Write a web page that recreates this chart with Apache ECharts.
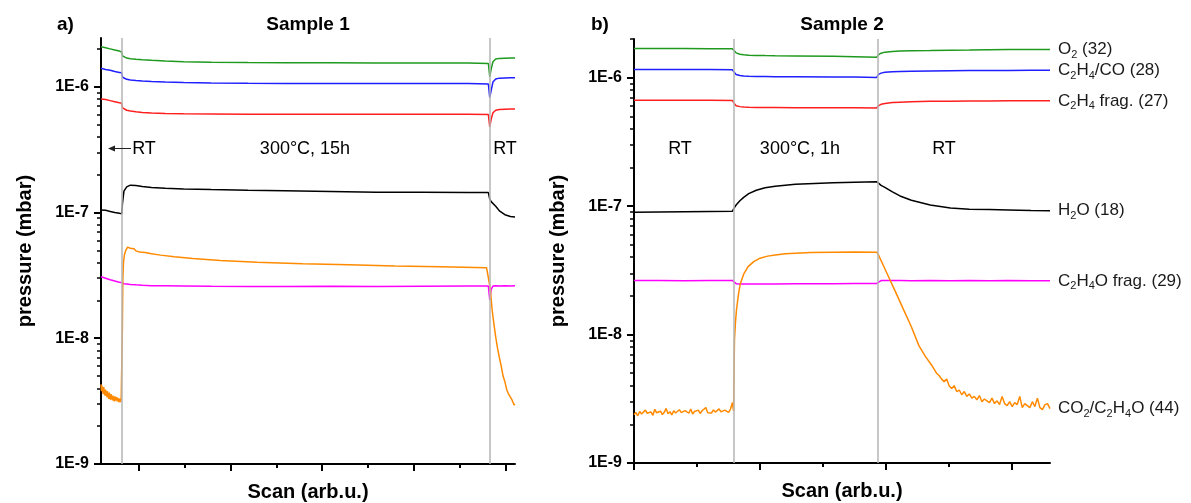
<!DOCTYPE html>
<html>
<head>
<meta charset="utf-8">
<script src="https://cdn.jsdelivr.net/npm/echarts@6.0.0/dist/echarts.min.js"></script>
<style>
html,body{margin:0;padding:0;background:#fff;}
#chart{width:1191px;height:503px;}
</style>
</head>
<body>
<div id="chart"></div>
<script>
// ---------------- data ----------------
// tick positions
const yMajorTicks = [1e-9, 1e-8, 1e-7, 1e-6];
const yMinorTicks = [2e-9,3e-9,4e-9,5e-9,6e-9,7e-9,8e-9,9e-9,
                     2e-8,3e-8,4e-8,5e-8,6e-8,7e-8,8e-8,9e-8,
                     2e-7,3e-7,4e-7,5e-7,6e-7,7e-7,8e-7,9e-7,
                     2e-6];
const xMajorA = [41, 141, 241, 341, 441];
const xMinorA = [91, 191, 291, 391];
const xMajorB = [0, 100, 200, 300];
const xMinorB = [50, 150, 250];
// temperature change events (scan position)
const eventsA = [23, 423];
const eventsB = [79, 193];

// ---- Sample 1 (panel a) ----
const xA = [0, 5, 10, 15, 20, 22.5, 23.5, 25, 28, 32, 38, 45, 55, 70, 90, 120, 160, 200, 250, 300, 350, 400, 422, 423.5, 425, 427, 430, 434, 440, 446, 451];
const a_O2 = [2.08, 2.04, 2.00, 1.96, 1.92, 1.89, 1.76, 1.72, 1.69, 1.67, 1.65, 1.635, 1.62, 1.60, 1.58, 1.565, 1.555, 1.55, 1.548, 1.546, 1.545, 1.545, 1.53, 1.20, 1.38, 1.58, 1.66, 1.68, 1.685, 1.69, 1.69]; // x1e-6
const a_C2H4 = [1.40, 1.37, 1.35, 1.32, 1.30, 1.29, 1.19, 1.16, 1.145, 1.13, 1.12, 1.11, 1.10, 1.09, 1.08, 1.07, 1.064, 1.062, 1.06, 1.06, 1.06, 1.06, 1.05, 0.82, 0.93, 1.09, 1.15, 1.17, 1.175, 1.18, 1.18]; // x1e-6
const a_C2H4f = [0.80, 0.79, 0.775, 0.76, 0.745, 0.74, 0.68, 0.66, 0.65, 0.64, 0.632, 0.625, 0.617, 0.612, 0.609, 0.607, 0.605, 0.605, 0.605, 0.605, 0.605, 0.605, 0.60, 0.48, 0.55, 0.62, 0.65, 0.66, 0.663, 0.665, 0.665]; // x1e-6
const a_H2O = [1.045, 1.04, 1.02, 1.00, 0.985, 0.975, 1.20, 1.48, 1.60, 1.65, 1.64, 1.61, 1.58, 1.56, 1.54, 1.52, 1.50, 1.49, 1.47, 1.45, 1.445, 1.44, 1.44, 1.28, 1.22, 1.19, 1.12, 1.03, 0.96, 0.93, 0.92]; // x1e-7
const a_C2H4O = [3.08, 3.00, 2.92, 2.85, 2.79, 2.77, 2.73, 2.71, 2.70, 2.68, 2.66, 2.64, 2.62, 2.61, 2.60, 2.59, 2.58, 2.58, 2.59, 2.58, 2.59, 2.60, 2.60, 2.02, 2.45, 2.60, 2.61, 2.60, 2.61, 2.60, 2.61]; // x1e-8
const xA_CO2 = [0,0.5,1,1.5,2,2.5,3,3.5,4,4.5,5,5.5,6,6.5,7,7.5,8,8.5,9,9.5,10,10.5,11,11.5,12,12.5,13,13.5,14,14.5,15,15.5,16,16.5,17,17.5,18,18.5,19,19.5,20,20.5,21,21.5,22,22.8,23.3,23.8,24.5,25.5,27,29,30,31,32,33,34,36,38,42,48,55,65,80,100,130,170,220,270,320,370,420,422,424,426,428,430,432,434,436,438,440,441,442,443,444,445,446,447,448,449,450,451];
const a_CO2 = [4.3,3.8,4.2,3.9,4.0,3.6,4.1,3.7,3.8,3.5,3.9,3.6,3.7,3.4,3.8,3.5,3.6,3.3,3.7,3.4,3.5,3.25,3.6,3.3,3.45,3.2,3.5,3.3,3.35,3.15,3.45,3.2,3.3,3.1,3.4,3.15,3.25,3.05,3.35,3.1,3.2,3.0,3.3,3.1,3.25,
               3.2,12,30,40,46,50,53,51.5,54,52,53.5,51,51.5,49.5,48.5,48,47,45.8,44.5,43,41.5,40.2,39.2,38.4,37.6,37,36.4,36.2,
               25,17,13,10.2,8.3,7.0,6.0,5.0,4.5,
               4.2,3.9,4.0,3.6,3.7,3.4,3.5,3.2,3.3,2.95,3.0]; // x1e-9

// ---- Sample 2 (panel b) ----
const xB = [0, 20, 40, 60, 78, 79.5, 81, 84, 87, 91, 97, 104, 112, 128, 158, 175, 192.5, 194, 196, 199, 205, 211, 220, 235, 251, 266, 282, 297, 315, 330];
const b_O2 = [1.69, 1.69, 1.685, 1.68, 1.68, 1.62, 1.56, 1.52, 1.505, 1.495, 1.49, 1.485, 1.48, 1.475, 1.465, 1.455, 1.445, 1.51, 1.55, 1.58, 1.60, 1.61, 1.62, 1.625, 1.635, 1.64, 1.65, 1.655, 1.66, 1.66]; // x1e-6
const b_C2H4 = [1.16, 1.16, 1.158, 1.156, 1.155, 1.10, 1.06, 1.04, 1.03, 1.025, 1.022, 1.02, 1.018, 1.016, 1.013, 1.01, 1.005, 1.06, 1.085, 1.10, 1.11, 1.118, 1.124, 1.128, 1.132, 1.135, 1.137, 1.139, 1.14, 1.14]; // x1e-6
const b_C2H4f = [0.668, 0.667, 0.667, 0.666, 0.665, 0.63, 0.605, 0.595, 0.59, 0.588, 0.586, 0.585, 0.585, 0.584, 0.583, 0.582, 0.58, 0.605, 0.62, 0.63, 0.64, 0.645, 0.65, 0.654, 0.656, 0.658, 0.659, 0.66, 0.66, 0.66]; // x1e-6
const b_H2O = [0.895, 0.90, 0.905, 0.908, 0.91, 0.97, 1.02, 1.10, 1.17, 1.25, 1.33, 1.39, 1.43, 1.48, 1.52, 1.535, 1.55, 1.50, 1.45, 1.40, 1.29, 1.20, 1.11, 1.02, 0.965, 0.946, 0.94, 0.933, 0.925, 0.92]; // x1e-7
const b_C2H4O = [2.63, 2.64, 2.62, 2.64, 2.64, 2.55, 2.49, 2.48, 2.47, 2.48, 2.47, 2.48, 2.48, 2.49, 2.49, 2.50, 2.50, 2.58, 2.63, 2.64, 2.63, 2.64, 2.62, 2.63, 2.62, 2.63, 2.62, 2.63, 2.62, 2.62]; // x1e-8
const xB_CO2 = [0,1.5,3,4.5,6,7.5,9,10.5,12,13.5,15,16.5,18,19.5,21,22.5,24,25.5,27,28.5,30,31.5,33,34.5,36,37.5,39,40.5,42,43.5,45,46.5,48,49.5,51,52.5,54,55.5,57,58.5,60,61.5,63,64.5,66,67.5,69,70.5,72,73.5,75,76.5,78,
                79,79.7,80.5,81.3,83,84.4,87,90.5,95,100,106,112,120,128,140,158,175,192.5,
                194,200,207,214,220,226,231,236,240,
                242,244,246,248,250,252,254,256,258,260,262,264,266,268,270,272,274,276,278,280,282,284,286,288,290,292,294,296,298,300,302,304,306,308,310,312,314,316,318,320,322,324,326,328,330];
const b_CO2 = [2.38,2.47,2.33,2.52,2.41,2.36,2.58,2.44,2.39,2.50,2.35,2.62,2.46,2.40,2.53,2.38,2.48,2.66,2.42,2.51,2.37,2.55,2.45,2.43,2.60,2.47,2.39,2.56,2.50,2.44,2.63,2.41,2.52,2.48,2.58,2.43,2.55,2.47,2.70,2.46,2.53,2.45,2.59,2.49,2.44,2.64,2.50,2.47,2.58,2.52,2.48,2.62,2.95,
               2.55,9.1,12.5,15.6,21,25,29.5,33.8,37,39.3,40.8,41.7,42.5,43,43.5,43.8,43.9,43.8,
               41.5,31,22,15.5,11.5,8.2,6.8,5.8,5.0,
               4.8,4.5,4.3,4.5,4.0,3.8,4.0,3.6,3.7,3.4,3.6,3.3,3.45,3.2,3.3,3.1,3.35,3.0,3.15,3.05,2.95,3.2,2.9,3.05,2.85,3.3,2.9,2.8,3.0,2.75,2.95,2.85,3.3,2.7,2.9,2.8,2.7,3.0,2.75,3.2,2.7,2.6,2.85,2.9,2.65]; // x1e-9

// ---------------- chart ----------------
const FONT = '"Liberation Sans", Arial, Helvetica, sans-serif';
const C = {O2: '#1f9a1f', C2H4: '#1f1fff', C2H4f: '#ff1f1f', H2O: '#000000', C2H4O: '#ff00ff', CO2: '#ff8a00'};
function pairs(xs, ys, unit) { return xs.map((x, i) => [x, ys[i] * unit]); }

const grids = [
  {left: 101, top: 38, width: 414, height: 426, containLabel: false, outerBoundsMode: 'none'},
  {left: 634, top: 39, width: 416, height: 424, containLabel: false, outerBoundsMode: 'none'}
];

function majorX(gi, max, ticks) {
  return {
    gridIndex: gi, type: 'value', min: 0, max: max, position: 'bottom',
    axisLine: {show: true, onZero: false, lineStyle: {color: '#000', width: 2}},
    axisTick: {show: true, inside: false, length: 7, customValues: ticks, lineStyle: {color: '#000', width: 2}},
    axisLabel: {show: false}, splitLine: {show: false},
    name: 'Scan (arb.u.)', nameLocation: 'middle', nameGap: 18,
    nameTextStyle: {fontFamily: FONT, fontSize: 20, fontWeight: 'bold', color: '#000'}
  };
}
function minorX(gi, max, ticks) {
  return {
    gridIndex: gi, type: 'value', min: 0, max: max, position: 'bottom', offset: 0,
    axisLine: {show: false, onZero: false},
    axisTick: {show: true, inside: false, length: 4, customValues: ticks, lineStyle: {color: '#000', width: 2}},
    axisLabel: {show: false}, splitLine: {show: false}
  };
}
function majorY(gi, max, gap) {
  return {
    gridIndex: gi, type: 'log', logBase: 10, min: 1e-9, max: max, position: 'left',
    axisLine: {show: true, onZero: false, lineStyle: {color: '#000', width: 2}},
    axisTick: {show: true, inside: false, length: 7, customValues: yMajorTicks, lineStyle: {color: '#000', width: 2}},
    axisLabel: {show: true, customValues: yMajorTicks, margin: 12, fontFamily: FONT, fontSize: 16, fontWeight: 'bold', color: '#000',
      formatter: v => '1E' + Math.round(Math.log10(v))},
    splitLine: {show: false},
    name: 'pressure (mbar)', nameLocation: 'middle', nameGap: gap, nameRotate: 90,
    nameTextStyle: {fontFamily: FONT, fontSize: 20, fontWeight: 'bold', color: '#000'}
  };
}
function minorY(gi, max) {
  return {
    gridIndex: gi, type: 'log', logBase: 10, min: 1e-9, max: max, position: 'left', offset: 0,
    axisLine: {show: false, onZero: false},
    axisTick: {show: true, inside: false, length: 4, customValues: yMinorTicks, lineStyle: {color: '#000', width: 1.5}},
    axisLabel: {show: false}, splitLine: {show: false}
  };
}

function eventSeries(xi, yi, events) {
  return {
    type: 'line', xAxisIndex: xi, yAxisIndex: yi, data: [], silent: true, z: 1,
    markLine: {silent: true, symbol: ['none', 'none'], animation: false,
      label: {show: false}, lineStyle: {color: '#b4b4b4', width: 1.5, type: 'solid'},
      data: events.map(v => ({xAxis: v}))}
  };
}
const rich = {
  n: {fontFamily: FONT, fontSize: 17, color: '#1a1a1a'},
  s: {fontFamily: FONT, fontSize: 11, color: '#1a1a1a', padding: [11, 0, 0, 0]}
};
function line(xi, yi, data, color, label) {
  const s = {
    type: 'line', xAxisIndex: xi, yAxisIndex: yi, data: data, showSymbol: false, symbol: 'none',
    lineStyle: {color: color, width: 1.5}, itemStyle: {color: color}, z: 3, silent: true
  };
  if (label) {
    s.endLabel = {show: true, distance: 8, formatter: label, rich: rich, fontFamily: FONT, fontSize: 17, color: '#1a1a1a'};
  }
  return s;
}

const series = [
  eventSeries(0, 0, eventsA),
  line(0, 0, pairs(xA, a_O2, 1e-6), C.O2),
  line(0, 0, pairs(xA, a_C2H4, 1e-6), C.C2H4),
  line(0, 0, pairs(xA, a_C2H4f, 1e-6), C.C2H4f),
  line(0, 0, pairs(xA, a_H2O, 1e-7), C.H2O),
  line(0, 0, pairs(xA, a_C2H4O, 1e-8), C.C2H4O),
  line(0, 0, pairs(xA_CO2, a_CO2, 1e-9), C.CO2),
  eventSeries(2, 2, eventsB),
  line(2, 2, pairs(xB, b_O2, 1e-6), C.O2, '{n|O}{s|2}{n| (32)}'),
  line(2, 2, pairs(xB, b_C2H4, 1e-6), C.C2H4, '{n|C}{s|2}{n|H}{s|4}{n|/CO (28)}'),
  line(2, 2, pairs(xB, b_C2H4f, 1e-6), C.C2H4f, '{n|C}{s|2}{n|H}{s|4}{n| frag. (27)}'),
  line(2, 2, pairs(xB, b_H2O, 1e-7), C.H2O, '{n|H}{s|2}{n|O (18)}'),
  line(2, 2, pairs(xB, b_C2H4O, 1e-8), C.C2H4O, '{n|C}{s|2}{n|H}{s|4}{n|O frag. (29)}'),
  line(2, 2, pairs(xB_CO2, b_CO2, 1e-9), C.CO2, '{n|CO}{s|2}{n|/C}{s|2}{n|H}{s|4}{n|O (44)}')
];

function txt(x, y, text, font, align) {
  return {type: 'text', x: x, y: y, silent: true, z: 10,
    style: {text: text, font: font, fill: '#000', textAlign: align || 'center', textVerticalAlign: 'middle'}};
}
const TITLE = 'bold 19px ' + FONT;
const ANN = '18px ' + FONT;
const graphic = [
  txt(308, 25, 'Sample 1', TITLE),
  txt(842, 25, 'Sample 2', TITLE),
  txt(57, 25, 'a)', TITLE, 'left'),
  txt(591, 25, 'b)', TITLE, 'left'),
  txt(144, 149, 'RT', ANN),
  txt(305, 149, '300°C, 15h', ANN),
  txt(505, 149, 'RT', ANN),
  txt(680, 149, 'RT', ANN),
  txt(800, 149, '300°C, 1h', ANN),
  txt(944, 149, 'RT', ANN),
  {type: 'line', silent: true, z: 10, shape: {x1: 113, y1: 148.5, x2: 131, y2: 148.5}, style: {stroke: '#222', lineWidth: 1}},
  {type: 'polygon', silent: true, z: 10, shape: {points: [[108, 148.5], [115, 145.5], [115, 151.5]]}, style: {fill: '#222'}}
];

const option = {
  animation: false,
  backgroundColor: '#ffffff',
  textStyle: {fontFamily: FONT},
  grid: grids,
  xAxis: [majorX(0, 451, xMajorA), minorX(0, 451, xMinorA), majorX(1, 330, xMajorB), minorX(1, 330, xMinorB)],
  yAxis: [majorY(0, 2.44e-6, 66), minorY(0, 2.44e-6), majorY(1, 2e-6, 66), minorY(1, 2e-6)],
  series: series,
  graphic: graphic
};
const chart = echarts.init(document.getElementById('chart'), null, {renderer: 'canvas'});
chart.setOption(option);
</script>
</body>
</html>
